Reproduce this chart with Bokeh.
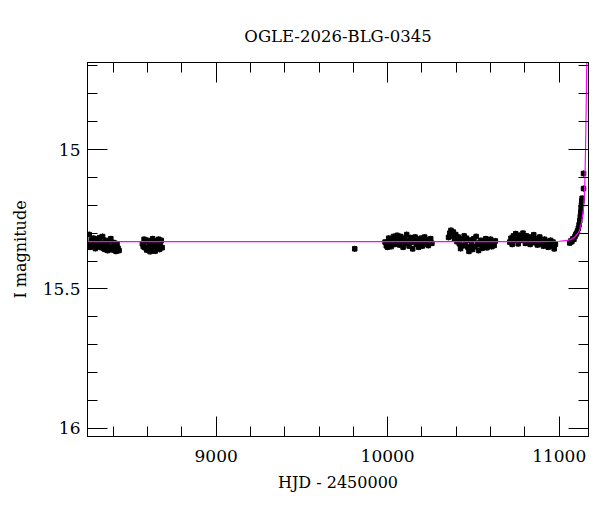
from bokeh.plotting import figure
from bokeh.models import FixedTicker, LinearAxis, Range1d
from bokeh.embed import file_html
from bokeh.resources import INLINE

# ---- data ----
c1_hjd = [8255, 8260, 8266, 8272, 8278, 8284, 8290, 8296, 8302, 8308, 8314, 8320, 8326, 8332,
          8338, 8344, 8350, 8356, 8362, 8368, 8374, 8380, 8386, 8392, 8398, 8404, 8410, 8416,
          8422, 8428, 8434]
c1_mag = [15.338, 15.305, 15.350, 15.325, 15.345, 15.318, 15.336, 15.355, 15.322, 15.340, 15.348,
          15.316, 15.333, 15.352, 15.312, 15.342, 15.358, 15.326, 15.344, 15.362, 15.330, 15.350,
          15.320, 15.356, 15.360, 15.334, 15.347, 15.365, 15.338, 15.354, 15.362]

c2_hjd = [8570, 8575, 8580, 8585, 8590, 8595, 8600, 8605, 8610, 8615, 8620, 8625, 8630, 8635,
          8640, 8645, 8650, 8655, 8660, 8665, 8670, 8675, 8680, 8685]
c2_mag = [15.338, 15.348, 15.322, 15.352, 15.330, 15.360, 15.326, 15.356, 15.336, 15.366, 15.332,
          15.350, 15.320, 15.362, 15.340, 15.364, 15.328, 15.354, 15.334, 15.322, 15.358, 15.338,
          15.326, 15.352]

c3_hjd = [9808]
c3_mag = [15.356]

c4_hjd = [9985, 9992, 9999, 10006, 10013, 10020, 10027, 10034, 10041, 10048, 10055, 10062, 10069,
          10076, 10083, 10090, 10097, 10104, 10111, 10118, 10125, 10132, 10139, 10146, 10153,
          10160, 10167, 10174, 10181, 10188, 10195, 10202, 10209, 10216, 10223, 10230, 10237,
          10244, 10251, 10258]
c4_mag = [15.332, 15.345, 15.350, 15.318, 15.336, 15.348, 15.322, 15.312, 15.340, 15.330, 15.308,
          15.324, 15.342, 15.312, 15.328, 15.350, 15.318, 15.336, 15.305, 15.326, 15.346, 15.316,
          15.332, 15.356, 15.328, 15.314, 15.340, 15.322, 15.350, 15.330, 15.318, 15.346, 15.330,
          15.314, 15.338, 15.324, 15.344, 15.330, 15.320, 15.336]

c5_hjd = [10355, 10362, 10369, 10376, 10383, 10390, 10397, 10404, 10411, 10418, 10425, 10432,
          10439, 10446, 10453, 10460, 10467, 10474, 10481, 10488, 10495, 10502, 10509, 10516,
          10523, 10530, 10537, 10544, 10551, 10558, 10565, 10572, 10579, 10586, 10593, 10600,
          10607, 10614, 10621, 10628]
c5_mag = [15.315, 15.300, 15.290, 15.310, 15.296, 15.320, 15.305, 15.330, 15.314, 15.338, 15.355,
          15.322, 15.345, 15.310, 15.334, 15.318, 15.350, 15.365, 15.325, 15.340, 15.358, 15.320,
          15.348, 15.312, 15.336, 15.362, 15.340, 15.326, 15.354, 15.330, 15.344, 15.320, 15.352,
          15.332, 15.342, 15.322, 15.348, 15.334, 15.344, 15.328]

c6_hjd = [10712, 10719, 10726, 10733, 10740, 10747, 10754, 10761, 10768, 10775, 10782, 10789,
          10796, 10803, 10810, 10817, 10824, 10831, 10838, 10845, 10852, 10859, 10866, 10873,
          10880, 10887, 10894, 10901, 10908, 10915, 10922, 10929, 10936, 10943, 10950, 10957,
          10964, 10971, 10978]
c6_mag = [15.332, 15.318, 15.340, 15.310, 15.326, 15.302, 15.322, 15.338, 15.308, 15.326, 15.314,
          15.300, 15.320, 15.336, 15.310, 15.324, 15.316, 15.340, 15.314, 15.330, 15.306, 15.334,
          15.320, 15.342, 15.326, 15.314, 15.338, 15.328, 15.346, 15.322, 15.340, 15.330, 15.350,
          15.336, 15.326, 15.346, 15.332, 15.356, 15.340]

c7_hjd = [11062, 11068, 11074, 11080, 11086, 11092, 11097, 11102, 11107, 11112, 11116, 11120,
          11123, 11126, 11128, 11130, 11132, 11134, 11142, 11142]
c7_mag = [15.335, 15.328, 15.330, 15.320, 15.322, 15.312, 15.305, 15.300, 15.292, 15.282, 15.270,
          15.255, 15.240, 15.225, 15.210, 15.198, 15.185, 15.175, 15.140, 15.086]

err = 0.011

model_hjd = [8250, 10900, 11000, 11040, 11066, 11090, 11110, 11119, 11130, 11140, 11146, 11150,
             11154, 11157, 11160, 11163, 11170]
model_mag = [15.33, 15.33, 15.329, 15.327, 15.323, 15.315, 15.300, 15.290, 15.262, 15.222, 15.175,
             15.110, 14.990, 14.870, 14.730, 14.620, 14.400]

x_major = [9000, 10000, 11000]
x_minor = [8400, 8600, 8800, 9200, 9400, 9600, 9800, 10200, 10400, 10600, 10800, 11000]
y_major = [15, 15.5, 16]
y_minor = [14.7, 14.8, 14.9, 15.1, 15.2, 15.3, 15.4, 15.6, 15.7, 15.8, 15.9]
y_labels = {15: "15", 15.5: "15.5", 16: "16"}

FONT = "DejaVu Serif"

hjd = c1_hjd + c2_hjd + c3_hjd + c4_hjd + c5_hjd + c6_hjd + c7_hjd
mag = c1_mag + c2_mag + c3_mag + c4_mag + c5_mag + c6_mag + c7_mag

p = figure(width=596, height=504, output_backend="svg", toolbar_location=None,
           x_range=Range1d(8250, 11171), y_range=Range1d(16.029, 14.688),
           min_border_left=87, min_border_right=8, min_border_top=62, min_border_bottom=68,
           title="OGLE-2026-BLG-0345")
p.title.align = "center"
p.title.text_font = FONT
p.title.text_font_size = "16.5px"
p.title.text_font_style = "normal"
p.title.text_color = "black"
p.title.standoff = 30
p.title.vertical_align = "top"

p.grid.visible = False
p.outline_line_color = "black"
p.outline_line_width = 1
p.background_fill_color = "white"
p.border_fill_color = "white"

# error bars
p.segment(x0=hjd, y0=[m - err for m in mag], x1=hjd, y1=[m + err for m in mag],
          line_color="black", line_width=1)
p.scatter(hjd, mag, marker="square", size=4.5, fill_color="black", line_color="black")
p.line(model_hjd, model_mag, line_color="#ff00ff", line_width=1.2)

def style(ax):
    ax.axis_line_color = "black"
    ax.major_tick_in = 20
    ax.major_tick_out = 0
    ax.minor_tick_in = 10
    ax.minor_tick_out = 0
    ax.major_tick_line_color = "black"
    ax.minor_tick_line_color = "black"
    ax.major_label_text_font = FONT
    ax.major_label_text_font_size = "17px"
    ax.major_label_text_color = "black"
    ax.axis_label_text_font = FONT
    ax.axis_label_text_font_size = "16px"
    ax.axis_label_text_font_style = "normal"
    ax.axis_label_text_color = "black"

xt = FixedTicker(ticks=x_major, minor_ticks=x_minor)
yt = FixedTicker(ticks=y_major, minor_ticks=y_minor)

p.xaxis.ticker = xt
p.yaxis.ticker = yt
p.yaxis.major_label_overrides = y_labels
p.xaxis.axis_label = "HJD - 2450000"
p.yaxis.axis_label = "I magnitude"
for ax in p.xaxis + p.yaxis:
    style(ax)
p.xaxis.major_label_standoff = 13
p.yaxis.major_label_standoff = 7
p.xaxis.axis_label_standoff = 8
p.yaxis.axis_label_standoff = 10

top = LinearAxis(ticker=FixedTicker(ticks=x_major, minor_ticks=x_minor),
                 major_label_overrides={t: "" for t in x_major})
right = LinearAxis(ticker=FixedTicker(ticks=y_major, minor_ticks=y_minor),
                   major_label_overrides={t: "" for t in y_major})
style(top)
style(right)
top.major_label_standoff = 0
right.major_label_standoff = 0
p.add_layout(top, "above")
p.add_layout(right, "right")

open("out.html", "w").write(file_html(p, INLINE))
